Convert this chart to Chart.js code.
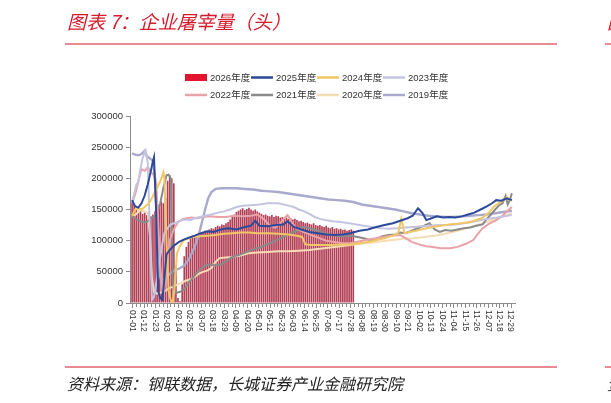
<!DOCTYPE html>
<html>
<head>
<meta charset="utf-8">
<script src="https://cdn.jsdelivr.net/npm/chart.js@4.4.1/dist/chart.umd.min.js"></script>
<style>
    html, body { margin: 0; padding: 0; background: #fff; }
    body { width: 611px; height: 403px; position: relative; overflow: hidden;
           font-family: "Noto Sans CJK SC", "Noto Sans", sans-serif; }
    #chart { position: absolute; left: 0; top: 0; }
    .title { position: absolute; left: 67px; top: 9px; font-size: 19px; font-style: italic;
             color: #d71a2b; line-height: 24px; white-space: nowrap; }
    .rule { position: absolute; left: 65px; width: 492px; height: 2px; background: #ea8a92; }
    .edge { position: absolute; left: 605px; width: 6px; height: 2px; background: #ea8a92; }
    .source { position: absolute; left: 67px; top: 372px; font-size: 16px; font-style: italic;
              color: #222; line-height: 22px; white-space: nowrap; }
</style>
</head>
<body>
<canvas id="chart" width="611" height="403"></canvas>
<div class="title">图表 7：企业屠宰量（头）</div>
<div class="title" style="left:607px">图</div>
<div class="rule" style="top:43px"></div>
<div class="edge" style="top:43px"></div>
<div class="rule" style="top:366px"></div>
<div class="edge" style="top:366px"></div>
<div class="source">资料来源：钢联数据，长城证券产业金融研究院</div>
<div class="source" style="left:607px">资</div>

<script>
// x axis: day of a 366-day calendar year, labels every 11 days
const xLabelDays = [0, 11, 22, 33, 44, 55, 66, 77, 88, 99, 110, 121, 132, 143, 154, 165, 176,
    187, 198, 209, 220, 231, 242, 253, 264, 275, 286, 297, 308, 319, 330, 341, 352, 363];
const xLabels = ['01-01', '01-12', '01-23', '02-03', '02-14', '02-25', '03-07', '03-18', '03-29',
    '04-09', '04-20', '05-01', '05-12', '05-23', '06-03', '06-14', '06-25', '07-06', '07-17',
    '07-28', '08-08', '08-19', '08-30', '09-10', '09-21', '10-02', '10-13', '10-24', '11-04',
    '11-15', '11-26', '12-07', '12-18', '12-29'];
const yTicks = [0, 50000, 100000, 150000, 200000, 250000, 300000];

const seriesNames = ['2026年度', '2025年度', '2024年度', '2023年度', '2022年度', '2021年度', '2020年度', '2019年度'];

// 2026: one bar every 2 days starting 01-01
const bars2026 = [
    162000, 158000, 150000, 146000, 148000, 143000, 145000, 141000, 144000, 139000,
    142000, 147000, 152000, 158000, 163000, 160000, 168000, 196000, 205000, 200000,
    192000, 60000, 8000, 3000, 30000, 75000, 90000, 98000, 104000, 108000,
    106000, 110000, 112000, 111000, 114000, 116000, 115000, 118000, 120000, 119000,
    122000, 124000, 123000, 126000, 125000, 128000, 130000, 134000, 138000, 142000,
    146000, 148000, 150000, 152000, 149000, 151000, 153000, 150000, 148000, 150000,
    147000, 145000, 143000, 141000, 142000, 140000, 139000, 141000, 138000, 140000,
    139000, 137000, 138000, 136000, 137000, 135000, 136000, 134000, 135000, 133000,
    131000, 132000, 130000, 128000, 129000, 127000, 126000, 128000, 125000, 124000,
    125000, 123000, 122000, 124000, 121000, 120000, 122000, 119000, 120000, 118000,
    119000, 117000, 118000, 116000, 117000, 118000, 116000
];

// lines: [day, value]
const line2025 = [[0,165000],[3,155000],[6,153000],[9,160000],[12,172000],[15,190000],[18,212000],[20,228000],[21,234000],[23,150000],[25,20000],[27,8000],[29,5000],[31,40000],[33,78000],[36,85000],[40,92000],[45,98000],[50,102000],[55,105000],[60,108000],[66,112000],[72,115000],[78,114000],[85,118000],[92,120000],[100,118000],[108,122000],[114,124000],[118,132000],[122,124000],[130,123000],[138,125000],[145,126000],[149,131000],[155,122000],[162,118000],[170,114000],[178,112000],[186,110000],[194,109000],[202,110000],[209,112000],[218,116000],[226,118000],[234,122000],[242,125000],[250,128000],[257,132000],[264,136000],[269,140000],[274,152000],[278,145000],[282,133000],[287,136000],[292,139000],[298,137000],[304,138000],[310,137000],[316,139000],[322,142000],[328,145000],[334,150000],[340,155000],[345,160000],[349,165000],[354,164000],[359,168000],[364,165000]];
const line2024 = [[0,140000],[3,150000],[6,152000],[9,150000],[12,154000],[15,158000],[18,165000],[21,175000],[24,185000],[27,195000],[29,205000],[30,210000],[31,200000],[33,100000],[35,20000],[37,5000],[39,0],[41,30000],[43,80000],[46,92000],[49,100000],[53,103000],[58,106000],[64,107000],[72,108000],[80,109000],[88,111000],[96,112000],[104,113000],[112,113000],[120,112000],[130,112000],[140,111000],[150,110000],[158,108000],[163,106000],[166,94000],[172,93000],[180,93000],[190,93000],[200,94000],[209,94000],[218,96000],[226,98000],[234,101000],[242,104000],[250,108000],[255,112000],[258,135000],[261,112000],[266,114000],[272,116000],[280,119000],[288,122000],[296,124000],[304,126000],[312,127000],[321,129000],[328,132000],[336,137000],[342,145000],[347,155000],[351,160000],[356,165000],[359,170000],[362,166000],[364,164000]];
const line2023 = [[0,162000],[2,175000],[4,189000],[6,195000],[8,215000],[10,232000],[12,242000],[13,245000],[15,225000],[17,120000],[19,5000],[21,10000],[23,30000],[25,55000],[27,75000],[29,95000],[31,112000],[34,120000],[37,126000],[40,128000],[44,130000],[48,133000],[52,134000],[56,133000],[60,136000],[65,138000],[70,140000],[76,142000],[82,145000],[88,147000],[94,150000],[100,154000],[106,156000],[114,157000],[122,158000],[130,160000],[140,160000],[148,157000],[155,154000],[160,150000],[165,147000],[170,143000],[175,138000],[180,135000],[185,133000],[192,131000],[200,130000],[208,128000],[215,126000],[222,124000],[230,122000],[238,120000],[246,119000],[254,120000],[262,121000],[270,122000],[278,123000],[286,124000],[294,125000],[302,125000],[310,126000],[318,128000],[326,130000],[334,133000],[342,135000],[350,137000],[357,139000],[364,141000]];
const line2022 = [[0,160000],[3,175000],[6,195000],[9,215000],[12,212000],[15,218000],[18,210000],[21,205000],[23,195000],[25,130000],[27,60000],[29,18000],[31,20000],[33,60000],[36,100000],[40,118000],[44,130000],[48,134000],[52,136000],[57,137000],[62,136000],[68,138000],[75,139000],[82,138000],[90,138000],[98,140000],[106,139000],[114,140000],[120,142000],[126,135000],[132,124000],[137,121000],[142,128000],[146,136000],[149,141000],[153,130000],[157,120000],[163,115000],[170,110000],[178,105000],[186,100000],[194,98000],[202,96000],[209,96000],[218,99000],[226,102000],[234,104000],[241,106000],[249,108000],[257,109000],[262,104000],[268,98000],[275,94000],[282,91000],[288,90000],[296,88000],[305,88000],[312,90000],[320,95000],[327,101000],[332,112000],[336,120000],[342,127000],[349,133000],[355,140000],[360,148000],[364,154000]];
const line2021 = [[0,140000],[4,134000],[8,131000],[12,129000],[16,132000],[20,137000],[24,144000],[27,160000],[30,185000],[33,205000],[35,206000],[37,200000],[38,120000],[39,30000],[42,16000],[46,18000],[50,22000],[54,32000],[58,40000],[62,48000],[66,55000],[70,60000],[74,62000],[80,60000],[86,62000],[92,70000],[98,75000],[104,78000],[110,82000],[116,86000],[122,89000],[128,93000],[134,97000],[140,102000],[146,107000],[152,112000],[158,116000],[163,122000],[168,121000],[174,118000],[180,115000],[186,111000],[192,109000],[198,107000],[204,107000],[210,108000],[216,106000],[222,104000],[228,101000],[234,103000],[240,107000],[246,109000],[252,110000],[257,113000],[262,112000],[268,116000],[274,120000],[280,124000],[285,128000],[290,118000],[295,114000],[300,117000],[306,116000],[312,118000],[318,120000],[324,121000],[330,124000],[336,126000],[340,135000],[344,142000],[348,150000],[352,157000],[355,160000],[358,172000],[360,158000],[362,165000],[364,176000]];
const line2020 = [[0,138000],[4,143000],[8,149000],[12,147000],[15,145000],[17,110000],[19,40000],[21,18000],[24,15000],[28,17000],[32,20000],[36,24000],[40,27000],[44,30000],[48,33000],[52,36000],[56,38000],[60,42000],[64,47000],[68,50000],[72,52000],[76,56000],[80,66000],[84,72000],[90,73000],[96,74000],[104,76000],[112,80000],[120,81000],[130,82000],[140,83000],[150,83000],[160,84000],[170,85000],[180,87000],[190,89000],[200,91000],[209,93000],[220,95000],[230,97000],[240,99000],[250,101000],[260,103000],[270,104000],[280,106000],[290,108000],[300,111000],[310,115000],[320,120000],[330,125000],[340,130000],[350,136000],[358,140000],[364,144000]];
const line2019 = [[0,240000],[3,238000],[6,237000],[9,239000],[12,244000],[14,236000],[17,232000],[20,228000],[22,200000],[24,120000],[26,50000],[28,35000],[31,38000],[35,45000],[40,52000],[45,55000],[50,60000],[55,72000],[60,90000],[64,110000],[67,130000],[70,150000],[73,168000],[76,178000],[80,183000],[86,184000],[92,184000],[100,184000],[108,183000],[116,182000],[124,180000],[132,179000],[140,178000],[148,176000],[156,174000],[164,172000],[172,170000],[180,168000],[188,166000],[196,165000],[204,164000],[212,162000],[220,158000],[228,156000],[236,154000],[244,152000],[252,150000],[260,147000],[268,144000],[276,142000],[284,140000],[292,139000],[300,138000],[308,138000],[316,139000],[324,140000],[332,141000],[340,142000],[348,144000],[356,146000],[364,148000]];

const toPoints = (pairs) => pairs.map(([d, v]) => ({x: d, y: v}));

const barColor = '#b23f55';
const legendRed = '#e3142e';
const lineColors = ['#2d4a9a', '#f1c766', '#c4c4e2', '#e8a2a8', '#8a8a8a', '#f6dcb4', '#a9a9cd'];
const lineSeries = [line2025, line2024, line2023, line2022, line2021, line2020, line2019];

// custom legend, 4 per row like the original
const legendGrid = {
    id: 'legendGrid',
    afterDraw(chart) {
        const ctx = chart.ctx;
        const cols = [185, 251, 317, 383];
        const rows = [77.5, 95];
        ctx.save();
        ctx.font = '9.5px "Liberation Sans", "Noto Sans CJK SC", sans-serif';
        ctx.textBaseline = 'middle';
        chart.data.datasets.forEach((ds, i) => {
            const x = cols[i % 4];
            const y = rows[Math.floor(i / 4)];
            if (ds.type === 'bar') {
                ctx.fillStyle = legendRed;
                ctx.fillRect(x, y - 3.5, 22, 7);
            } else {
                ctx.strokeStyle = ds.borderColor;
                ctx.lineWidth = 2.5;
                ctx.beginPath();
                ctx.moveTo(x, y);
                ctx.lineTo(x + 22, y);
                ctx.stroke();
            }
            ctx.fillStyle = '#333';
            ctx.fillText(ds.label, x + 25, y + 0.5);
        });
        ctx.restore();
    }
};

// x axis ticks and labels, text reads top to bottom
const xAxisLabels = {
    id: 'xAxisLabels',
    afterDraw(chart) {
        const {ctx, chartArea} = chart;
        const x = chart.scales.x;
        const bottom = chartArea.bottom;
        ctx.save();
        ctx.strokeStyle = '#8c8c8c';
        ctx.lineWidth = 1;
        ctx.beginPath();
        for (let i = 0; i < xLabelDays.length; i++) {
            for (let k = 0; k < 3; k++) {
                const d = xLabelDays[i] + k * 11 / 3;
                if (d > 366) continue;
                const px = Math.round(x.getPixelForValue(d)) + 0.5;
                ctx.moveTo(px, bottom);
                ctx.lineTo(px, bottom + (k === 0 ? 5 : 4));
            }
        }
        ctx.stroke();
        ctx.fillStyle = '#333';
        ctx.font = '8.5px "Liberation Sans", sans-serif';
        ctx.textAlign = 'left';
        ctx.textBaseline = 'middle';
        xLabelDays.forEach((d, i) => {
            const px = x.getPixelForValue(d);
            ctx.save();
            ctx.translate(px, bottom + 7);
            ctx.rotate(Math.PI / 2);
            ctx.fillText(xLabels[i], 0, 0);
            ctx.restore();
        });
        ctx.restore();
    }
};

const datasets = [{
    type: 'bar',
    label: seriesNames[0],
    data: bars2026.map((v, i) => ({x: i * 2, y: v})),
    backgroundColor: barColor,
    borderWidth: 0,
    barPercentage: 0.8,
    categoryPercentage: 1,
    order: 10
}];
lineSeries.forEach((s, i) => {
    datasets.push({
        type: 'line',
        label: seriesNames[i + 1],
        data: toPoints(s),
        borderColor: lineColors[i],
        backgroundColor: lineColors[i],
        borderWidth: i === 6 ? 2.4 : 2,
        pointRadius: 0,
        tension: 0,
        order: i + 1
    });
});

Chart.defaults.font.family = '"Liberation Sans", "Noto Sans CJK SC", sans-serif';

new Chart(document.getElementById('chart'), {
    type: 'bar',
    data: {datasets},
    options: {
        responsive: false,
        animation: false,
        layout: {padding: {left: 0, right: 96, top: 116, bottom: 0}},
        plugins: {legend: {display: false}, tooltip: {enabled: false}},
        scales: {
            x: {
                type: 'linear',
                min: -2,
                max: 367,
                offset: false,
                grid: {display: false},
                border: {display: true, color: '#8c8c8c', width: 1},
                ticks: {display: false},
                afterFit: (s) => { s.height = 100; }
            },
            y: {
                min: 0,
                max: 300000,
                afterBuildTicks: (s) => { s.ticks = yTicks.map(v => ({value: v})); },
                grid: {display: true, drawOnChartArea: false, drawTicks: true, tickLength: 4, color: '#8c8c8c'},
                border: {display: true, color: '#8c8c8c', width: 1},
                ticks: {
                    color: '#333',
                    font: {size: 9.5},
                    padding: 3,
                    callback: (v) => String(v)
                },
                afterFit: (s) => { s.width = 130; }
            }
        }
    },
    plugins: [legendGrid, xAxisLabels]
});
</script>
</body>
</html>
